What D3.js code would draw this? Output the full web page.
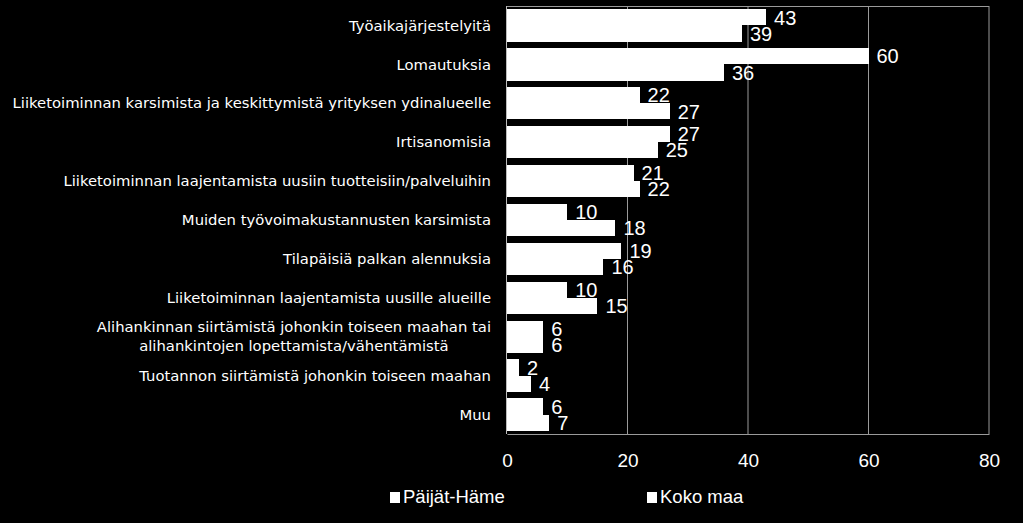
<!DOCTYPE html>
<html lang="fi">
	<head>
		<meta charset="utf-8">
		<title>Toimenpiteet</title>
		<script type="text/javascript" src="https://d3js.org/d3.v7.min.js"></script>
		<style type="text/css">
			body { margin: 0; background: #000; }
			text { font-family: "Liberation Sans", Arial, sans-serif; fill: #fff; }
			text.cat { font-family: "DejaVu Sans", Verdana, sans-serif; }
		</style>
	</head>
	<body>
		<script type="text/javascript">

			//Width and height
			var w = 1023;
			var h = 523;

			//data
			var categories = [
				"Työaikajärjestelyitä",
				"Lomautuksia",
				"Liiketoiminnan karsimista ja keskittymistä yrityksen ydinalueelle",
				"Irtisanomisia",
				"Liiketoiminnan laajentamista uusiin tuotteisiin/palveluihin",
				"Muiden työvoimakustannusten karsimista",
				"Tilapäisiä palkan alennuksia",
				"Liiketoiminnan laajentamista uusille alueille",
				"Alihankinnan siirtämistä johonkin toiseen maahan tai\nalihankintojen lopettamista/vähentämistä",
				"Tuotannon siirtämistä johonkin toiseen maahan",
				"Muu"
			];
			var seriesNames = ["Päijät-Häme", "Koko maa"];
			var paijatHame = [43, 60, 22, 27, 21, 10, 19, 10, 6, 2, 6];
			var kokoMaa = [39, 36, 27, 25, 22, 18, 16, 15, 6, 4, 7];
			var xTicks = [0, 20, 40, 60, 80];

			//plot area (window.top is taken, so own names)
			var plotLeft = 507, plotRight = 989, plotTop = 6, plotBottom = 434;

			var svg = d3.select("body")
						.append("svg")
						.attr("width", w)
						.attr("height", h);

			svg.append("rect")
				.attr("width", w)
				.attr("height", h)
				.attr("fill", "#000");

			var x = d3.scaleLinear()
				.domain([0, 80])
				.range([plotLeft, plotRight]);

			var y = d3.scaleBand()
				.domain(d3.range(categories.length))
				.range([plotTop, plotBottom])
				.paddingInner(0.17)
				.paddingOuter(0.085);

			var ySub = d3.scaleBand()
				.domain([0, 1])
				.range([0, y.bandwidth()]);

			//gridlines
			svg.selectAll("line.grid")
				.data(xTicks.slice(1))
				.enter()
				.append("line")
				.attr("class", "grid")
				.attr("x1", function(d) { return x(d); })
				.attr("x2", function(d) { return x(d); })
				.attr("y1", plotTop)
				.attr("y2", plotBottom)
				.attr("stroke", "#9a9a9a")
				.attr("stroke-width", 1);

			//top border
			svg.append("line")
				.attr("x1", plotLeft)
				.attr("x2", plotRight)
				.attr("y1", plotTop + 0.5)
				.attr("y2", plotTop + 0.5)
				.attr("stroke", "#9a9a9a");

			//bottom axis
			var xAxis = d3.axisBottom(x)
				.tickValues(xTicks)
				.tickSize(0)
				.tickPadding(20);

			var gx = svg.append("g")
				.attr("transform", "translate(0," + plotBottom + ")")
				.call(xAxis);
			gx.select(".domain").attr("stroke", "#9a9a9a");
			gx.selectAll("text")
				.attr("font-size", "19px")
				.attr("fill", "#fff");

			//left axis line
			svg.append("line")
				.attr("x1", plotLeft - 0.5)
				.attr("x2", plotLeft - 0.5)
				.attr("y1", plotTop)
				.attr("y2", plotBottom)
				.attr("stroke", "#bbbbbb");

			var series = [paijatHame, kokoMaa];

			series.forEach(function(vals, s) {
				var g = svg.append("g");

				//crispEdges so the two bars of a pair touch without a seam
				g.selectAll("rect")
					.data(vals)
					.enter()
					.append("rect")
					.attr("x", x(0))
					.attr("y", function(d, i) { return y(i) + ySub(s); })
					.attr("width", function(d) { return x(d) - x(0); })
					.attr("height", ySub.bandwidth())
					.attr("shape-rendering", "crispEdges")
					.attr("fill", "#fff");

				g.selectAll("text")
					.data(vals)
					.enter()
					.append("text")
					.attr("x", function(d) { return x(d) + 8; })
					.attr("y", function(d, i) { return y(i) + ySub(s) + ySub.bandwidth() / 2; })
					.attr("dy", "0.36em")
					.attr("font-size", "20px")
					.text(function(d) { return d; });
			});

			//category labels
			var labelX = 491;
			var cats = svg.append("g")
				.selectAll("text")
				.data(categories)
				.enter()
				.append("text")
				.attr("class", "cat")
				.attr("font-size", "14.8px")
				.attr("text-anchor", "end")
				.attr("y", function(d, i) { return y(i) + y.bandwidth() / 2; });

			cats.each(function(d) {
				var lines = d.split("\n");
				var t = d3.select(this);
				if (lines.length == 1) {
					t.attr("x", labelX).attr("dy", "0.35em").text(d);
				} else {
					//centre the lines inside a right aligned block
					var spans = lines.map(function(l, k) {
						return t.append("tspan")
							.attr("x", 0)
							.attr("dy", k == 0 ? "-0.3em" : "1.25em")
							.text(l);
					});
					var wMax = d3.max(spans, function(sp) { return sp.node().getComputedTextLength(); });
					t.attr("text-anchor", "middle");
					spans.forEach(function(sp) { sp.attr("x", labelX - wMax / 2); });
				}
			});

			//legend
			var legendX = [390, 647];
			var legend = svg.selectAll("g.legend")
				.data(seriesNames)
				.enter()
				.append("g")
				.attr("class", "legend")
				.attr("transform", function(d, i) { return "translate(" + legendX[i] + ",492)"; });

			legend.append("rect")
				.attr("width", 10)
				.attr("height", 11)
				.attr("fill", "#fff");

			legend.append("text")
				.attr("x", 13)
				.attr("y", 11)
				.attr("font-size", "18.5px")
				.text(function(d) { return d; });

		</script>
	</body>
</html>
